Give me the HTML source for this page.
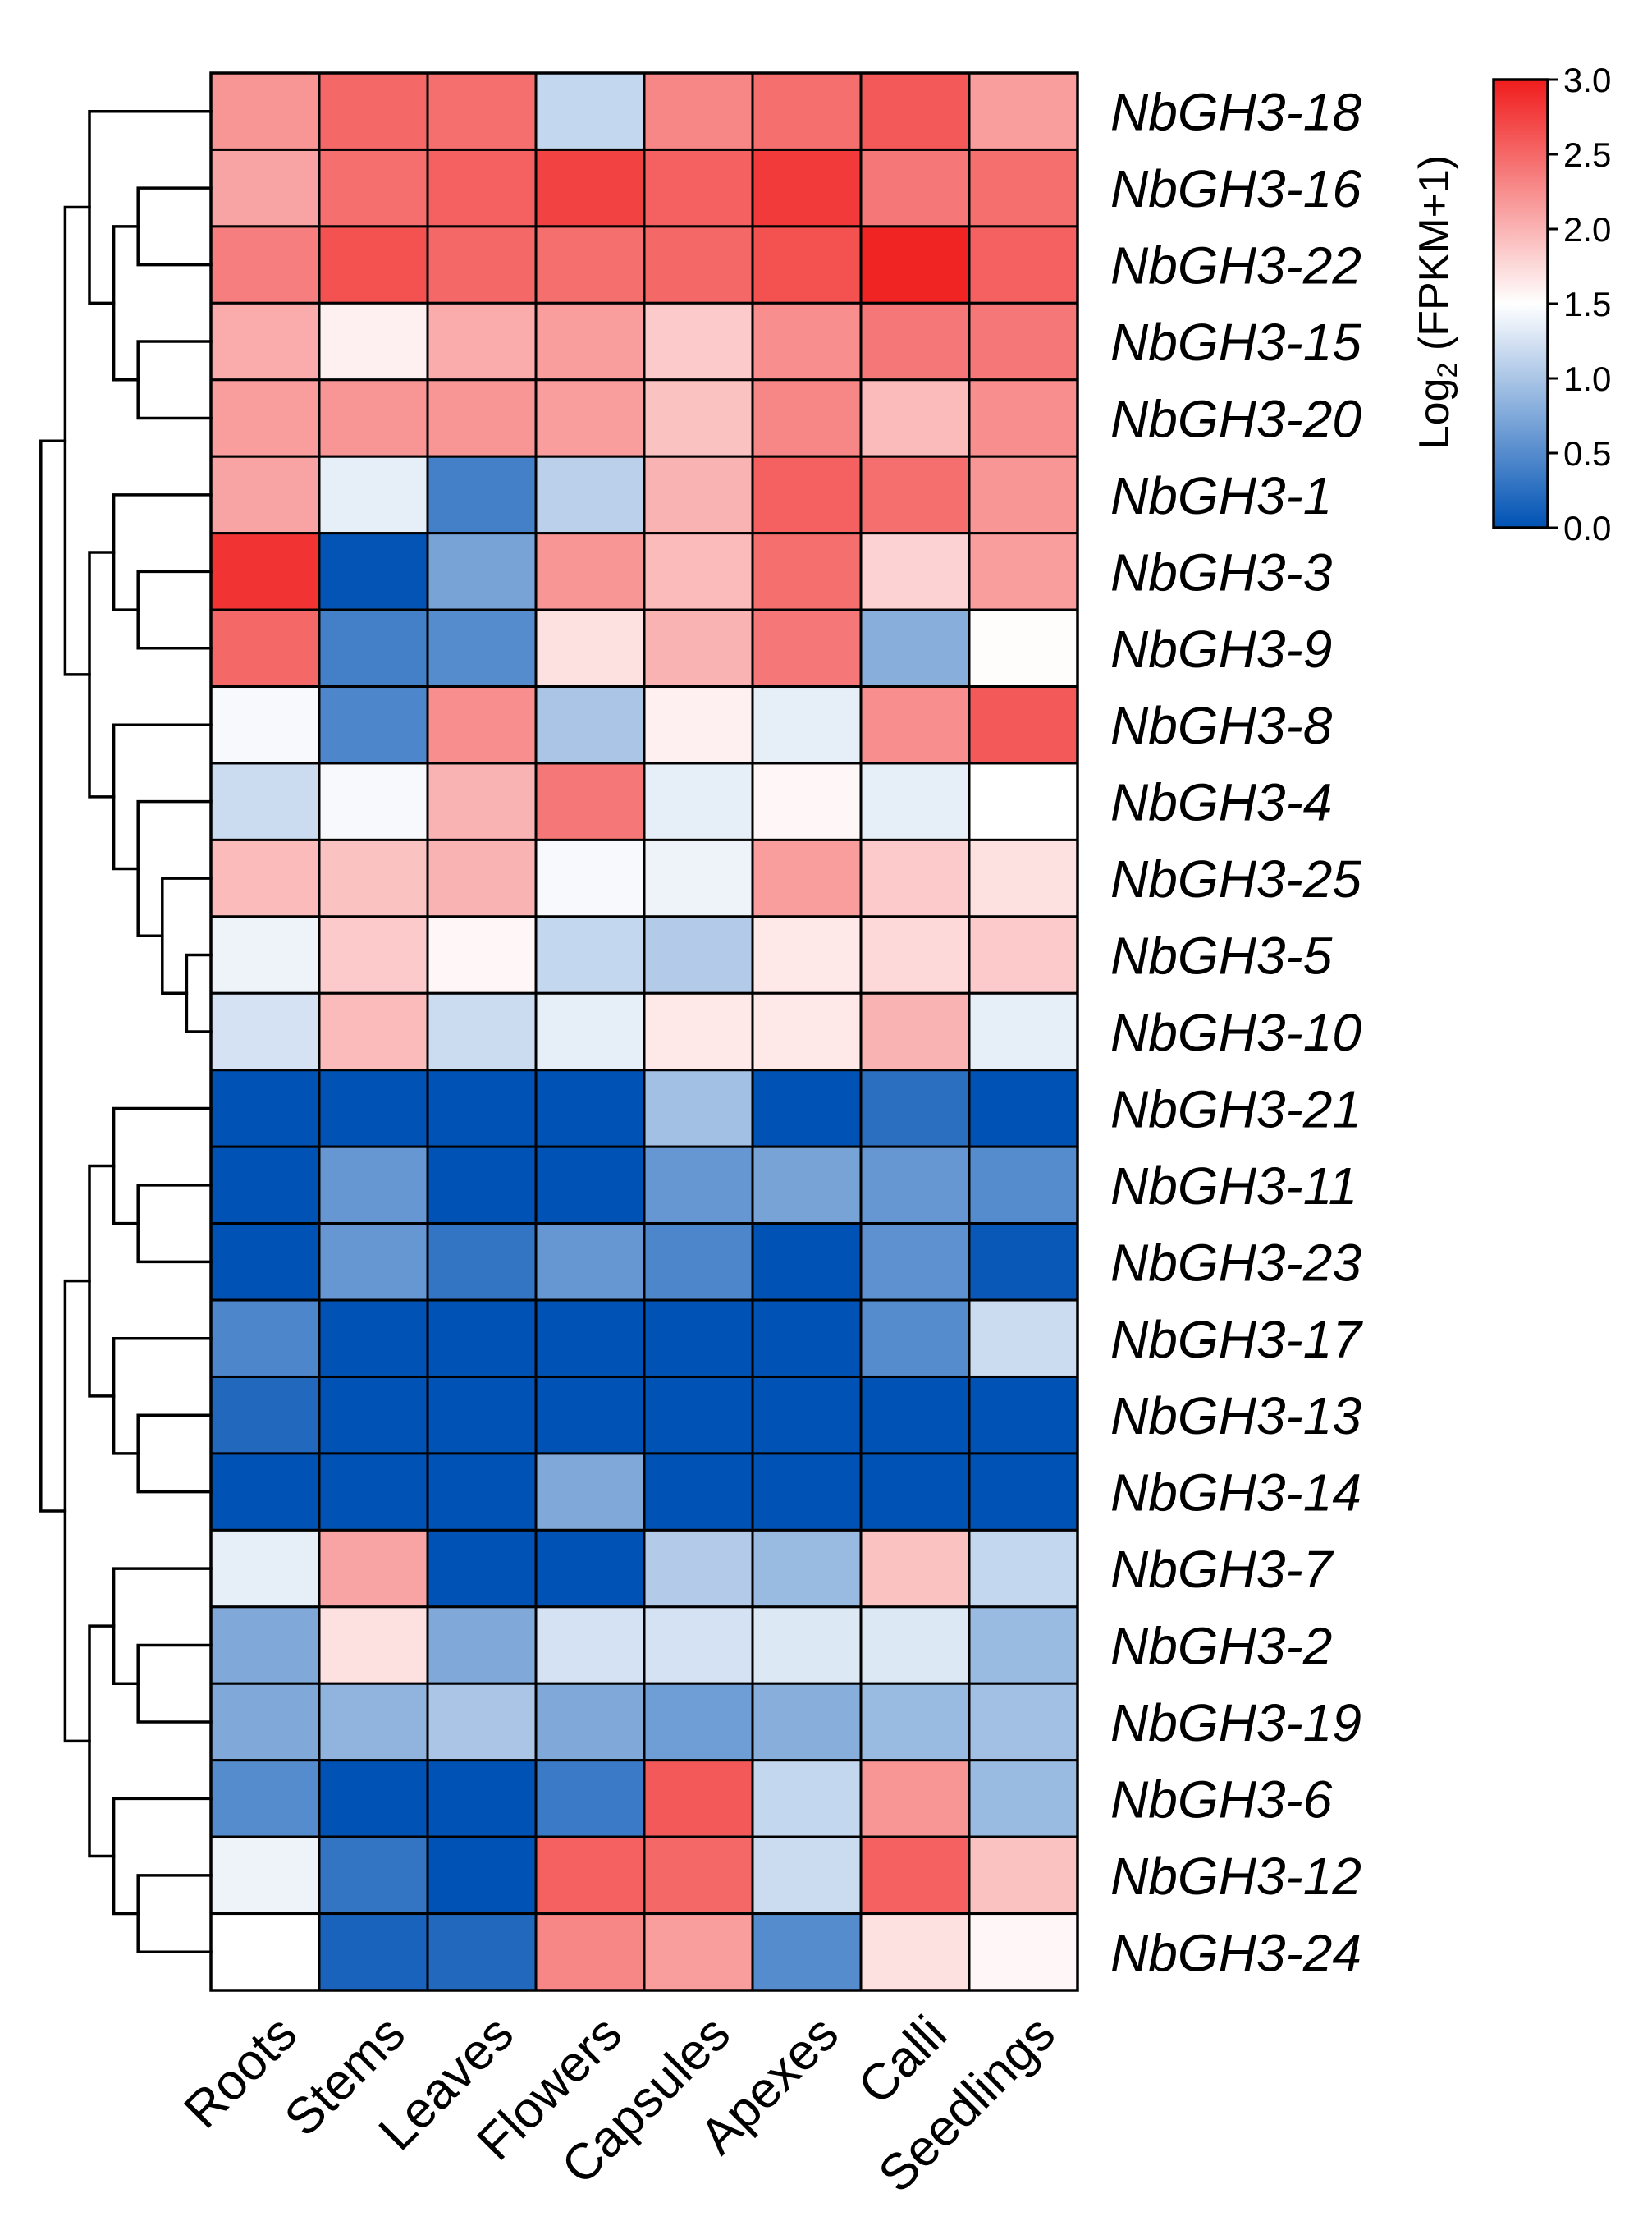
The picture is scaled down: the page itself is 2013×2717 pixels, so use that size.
<!DOCTYPE html>
<html><head><meta charset="utf-8"><style>
html,body{margin:0;padding:0;background:#fff;}
svg{display:block;}
</style></head><body>
<svg id="chart" width="2013" height="2717" viewBox="0 0 2013 2717" xmlns="http://www.w3.org/2000/svg"></svg>
<script>
const genes = ["NbGH3-18","NbGH3-16","NbGH3-22","NbGH3-15","NbGH3-20","NbGH3-1","NbGH3-3","NbGH3-9","NbGH3-8","NbGH3-4","NbGH3-25","NbGH3-5","NbGH3-10","NbGH3-21","NbGH3-11","NbGH3-23","NbGH3-17","NbGH3-13","NbGH3-14","NbGH3-7","NbGH3-2","NbGH3-19","NbGH3-6","NbGH3-12","NbGH3-24"];
const tissues = ["Roots","Stems","Leaves","Flowers","Capsules","Apexes","Calli","Seedlings"];
const values = [
[2.2,2.5,2.45,1.15,2.3,2.45,2.6,2.15],
[2.1,2.45,2.55,2.75,2.55,2.8,2.4,2.45],
[2.35,2.65,2.5,2.45,2.5,2.65,2.95,2.55],
[2.05,1.6,2.05,2.15,1.85,2.25,2.4,2.4],
[2.15,2.2,2.2,2.15,1.9,2.3,1.95,2.25],
[2.1,1.35,0.4,1.1,2.0,2.55,2.45,2.2],
[2.85,0.02,0.7,2.2,1.95,2.45,1.8,2.15],
[2.5,0.4,0.5,1.7,2.0,2.4,0.8,1.52],
[1.45,0.45,2.25,1.0,1.6,1.35,2.25,2.6],
[1.2,1.45,2.0,2.4,1.35,1.55,1.35,1.5],
[1.95,1.9,2.0,1.45,1.4,2.15,1.85,1.7],
[1.4,1.85,1.55,1.15,1.05,1.65,1.75,1.85],
[1.25,1.95,1.2,1.35,1.65,1.65,2.0,1.35],
[0,0,0,0,0.95,0,0.25,0],
[0,0.6,0,0,0.6,0.7,0.6,0.5],
[0,0.6,0.3,0.6,0.45,0,0.55,0.05],
[0.45,0,0,0,0,0,0.5,1.2],
[0.2,0,0,0,0,0,0,0],
[0,0,0,0.75,0,0,0,0],
[1.35,2.1,0,0,1.05,0.9,1.9,1.15],
[0.75,1.7,0.75,1.25,1.25,1.3,1.3,0.9],
[0.75,0.85,1.0,0.75,0.65,0.8,0.9,0.95],
[0.5,0,0,0.35,2.6,1.15,2.2,0.9],
[1.4,0.3,0,2.55,2.5,1.2,2.55,1.9],
[1.5,0.15,0.2,2.3,2.15,0.5,1.7,1.55]
];
const colorTicks = [0,0.5,1.0,1.5,2.0,2.5,3.0];
const colorTickLabels = ["0.0","0.5","1.0","1.5","2.0","2.5","3.0"];
// dendrogram: [left, right, height]; leaves are row indices
const dendro =
 [ [ [0, [[1,2,3],[3,4,3],4], 5],
     [ [5,[6,7,3],4], [8,[9,[10,[11,12,1],2],3],4], 5], 6],
   [ [ [13,[14,15,3],4], [16,[17,18,3],4], 5],
     [ [19,[20,21,3],4], [22,[23,24,3],4], 5], 6], 7];

const NS="http://www.w3.org/2000/svg";
const svg=document.getElementById('chart');
function mk(tag,attrs,parent){const e=document.createElementNS(NS,tag);for(const k in attrs)e.setAttribute(k,attrs[k]);(parent||svg).appendChild(e);return e;}

const X0=257,X1=1313,Y0=89,Y1=2425;
const cw=(X1-X0)/tissues.length, rh=(Y1-Y0)/genes.length;
const vmin=0,vmax=3;
function colX(j){return X0+j*cw;}
function rowY(i){return Y0+i*rh;}
function rowCY(i){return Y0+(i+0.5)*rh;}
function distX(d){return X0-d*29.6;}
const cBlue=[0,82,180],cWhite=[255,255,255],cRed=[240,28,28];
function color(v){let t=(v-vmin)/(vmax-vmin);t=Math.max(0,Math.min(1,t));let a,b,u;if(t<0.5){a=cBlue;b=cWhite;u=t/0.5;}else{a=cWhite;b=cRed;u=(t-0.5)/0.5;}const c=a.map((x,k)=>Math.round(x+(b[k]-x)*u));return `rgb(${c[0]},${c[1]},${c[2]})`;}

const gCells=mk('g',{});


values.forEach((row,i)=>row.forEach((v,j)=>{
  const r=mk('rect',{x:colX(j),y:rowY(i),width:cw,height:rh,fill:color(v),stroke:'#000','stroke-width':3},gCells);
  
  
}));
const border=mk('rect',{x:X0,y:Y0,width:X1-X0,height:Y1-Y0,fill:'none',stroke:'#000','stroke-width':3.5});



genes.forEach((g,i)=>{
  const t=mk('text',{x:1353,y:rowCY(i)+23,'font-family':'Liberation Sans, sans-serif','font-size':64,'font-style':'italic',fill:'#000'});
  t.textContent=g;
  
  
});
tissues.forEach((s,j)=>{
  const cx=colX(j)+cw/2+42, cy=2482;
  const t=mk('text',{x:cx,y:cy,'text-anchor':'end','font-family':'Liberation Sans, sans-serif','font-size':62,fill:'#000',transform:`rotate(-45 ${cx} ${cy})`});
  t.textContent=s;
  
  
});

const gD=mk('g',{fill:'none',stroke:'#000','stroke-width':3.5,'stroke-linecap':'square'});


function draw(node){
  if(typeof node==='number') return {x:X0,y:rowCY(node)};
  const a=draw(node[0]), b=draw(node[1]); const x=distX(node[2]);
  const p=mk('path',{d:`M${a.x},${a.y}H${x}V${b.y}H${b.x}`},gD);
  
  
  return {x:x,y:(a.y+b.y)/2};
}
draw(dendro);

const CB={x:1820,y0:97,y1:643,w:66};
const defs=mk('defs',{});
const lg=mk('linearGradient',{id:'cbg',x1:0,y1:1,x2:0,y2:0},defs);
for(let k=0;k<=20;k++){const v=vmin+(vmax-vmin)*k/20;mk('stop',{offset:(k/20),'stop-color':color(v)},lg);}
function cbY(v){return CB.y1-(v-vmin)/(vmax-vmin)*(CB.y1-CB.y0);}
const cbr=mk('rect',{x:CB.x,y:CB.y0,width:CB.w,height:CB.y1-CB.y0,fill:'url(#cbg)',stroke:'#000','stroke-width':3.5});


colorTicks.forEach((v,k)=>{
  const y=cbY(v);
  const l=mk('line',{x1:CB.x+CB.w,x2:CB.x+CB.w+13,y1:y,y2:y,stroke:'#000','stroke-width':3});
  
  
  const t=mk('text',{x:1905,y:y+15,'font-family':'Liberation Sans, sans-serif','font-size':42,fill:'#000'});
  t.textContent=colorTickLabels[k];
  
  
});
const tt=mk('text',{x:0,y:0,'text-anchor':'middle','font-family':'Liberation Sans, sans-serif','font-size':52,fill:'#000',transform:'translate(1765 368) rotate(-90)'});


tt.innerHTML='Log<tspan font-size="34" dy="10">2</tspan><tspan dy="-10"> (FPKM+1)</tspan>';
</script>
</body></html>
